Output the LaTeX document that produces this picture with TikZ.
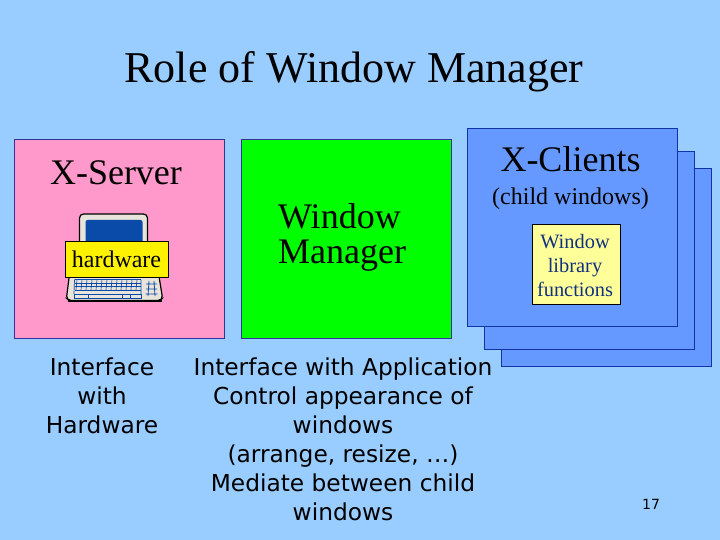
\documentclass[tikz,border=0pt]{standalone}
\usepackage{fontspec}
\setmainfont{Liberation Serif}
\newfontfamily\bodyfont{DejaVu Sans}
\definecolor{bgblue}{HTML}{99CCFF}
\definecolor{edge}{HTML}{333399}
\definecolor{pinkbox}{HTML}{FF99CC}
\definecolor{clientblue}{HTML}{6699FF}
\definecolor{clientedge}{HTML}{1133AA}
\definecolor{paleyellow}{HTML}{FFFF99}
\definecolor{libtext}{HTML}{103080}
\definecolor{screenblue}{HTML}{0A4AA8}
\definecolor{beige}{HTML}{E8E4DC}
\tikzset{
  panel/.style={draw=edge,line width=0.9pt},
  client/.style={draw=clientedge,fill=clientblue,line width=0.9pt},
  serif/.style={inner sep=0pt,text=black,font=\fontsize{#1}{#1}\selectfont},
  bodytext/.style={inner sep=0pt,align=center,text=black,font=\bodyfont\fontsize{23.3}{29}\selectfont},
  keyrow/.style={draw=screenblue,line width=0.7pt}
}
\begin{document}
\begin{tikzpicture}[x=1pt,y=-1pt]
\useasboundingbox (0,0) rectangle (720,540);
\fill[bgblue] (0,0) rectangle (720,540);
\node[serif=44,anchor=base] (title) at (354,83) {Role of Window Manager};
% panels
\draw[panel,fill=pinkbox] (14,139) rectangle (224,338);
\draw[panel,fill=green] (241,139) rectangle (451,338);
\draw[client] (501,168) rectangle (711,366);
\draw[client] (484,151) rectangle (694,349);
\draw[client] (467,128) rectangle (677,326);
\node[serif=36,anchor=base] (xserver) at (116,185) {X-Server};
\node[serif=36,anchor=base] (xclients) at (570.5,172) {X-Clients};
\node[serif=24,anchor=base] (child) at (570.5,205) {(child windows)};
\node[serif=36,anchor=base west] (wm1) at (278,229) {Window};
\node[serif=36,anchor=base west] (wm2) at (278,263) {Manager};
% computer
\draw[black,line width=1.2pt,fill=beige,rounded corners=4pt] (79.5,248) -- (79.5,214) -- (147.5,214) -- (147.5,248) -- cycle;
\fill[screenblue,rounded corners=2pt] (85.5,220) rectangle (142.5,250);
\draw[black,line width=1.2pt,fill=beige,rounded corners=2pt] (70,270) -- (158,270) -- (162.5,298) -- (160,300.5) -- (69,300.5) -- (66.5,298) -- cycle;
\draw[black,line width=1.6pt] (68,301) -- (162,301);
\foreach \yy in {279.5,283,286.5,290}{\draw[keyrow] (75,\yy) -- (141,\yy);}
\draw[keyrow] (74,294) rectangle (141,298);
\draw[keyrow] (88,294) -- (88,298) (122,294) -- (122,298) (130,294) -- (130,298);
\foreach \xx in {77,82,87,92,97,102,107,112,117,122,127,132,137}{\draw[screenblue,line width=0.6pt] (\xx,279.5) -- (\xx-1,290);}
\draw[keyrow] (74.5,279.5) -- (74,294) (141,279.5) -- (141,294);
\draw[screenblue,line width=0.8pt] (146,284) -- (157,284) (146,289) -- (157,289) (145.5,294) -- (157.5,294) (149,281) -- (148,296) (154,281) -- (155,296);
% labels in boxes
\node[draw=black,fill=yellow,line width=0.7pt,minimum width=103pt,minimum height=36pt,inner sep=0pt,font=\fontsize{24}{24}\selectfont] (hw) at (116.5,259) {hardware};
\node[draw=black,fill=paleyellow,line width=0.7pt,minimum width=88pt,minimum height=80pt,inner sep=0pt] (lib) at (576,264) {};
\node[inner sep=0pt,align=center,text=libtext,font=\fontsize{20.4}{24}\selectfont] (libtxt) at (575,266) {Window\\library\\functions};
% body text
\node[bodytext] (iface) at (102,396) {Interface\\with\\Hardware};
\node[bodytext] (wmtext) at (343,439) {Interface with Application\\Control appearance of\\windows\\(arrange, resize, …)\\Mediate between child\\windows};
\node[inner sep=0pt,text=black,font=\bodyfont\fontsize{14}{14}\selectfont] (pg) at (651,504) {17};
\end{tikzpicture}
\end{document}
